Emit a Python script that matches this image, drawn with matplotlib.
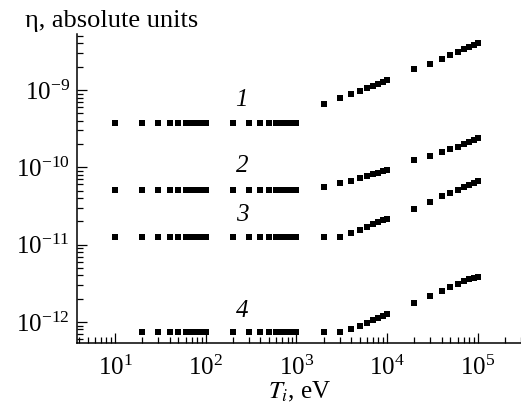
import matplotlib
matplotlib.use("Agg")
import matplotlib.pyplot as plt
import matplotlib.ticker as mticker

plt.rcParams['font.family'] = ['Liberation Serif', 'DejaVu Serif']
plt.rcParams['mathtext.fontset'] = 'stix'

# temperatures, eV
T_low = [10, 20, 30, 40, 50, 60, 70, 80, 90, 100,
         200, 300, 400, 500, 600, 700, 800, 900, 1000]
T_low4 = [20, 30, 40, 50, 60, 70, 80, 90, 100,
          200, 300, 400, 500, 600, 700, 800, 900, 1000]
T_high = [2000, 3000, 4000, 5000, 6000, 7000, 8000, 9000, 10000,
          20000, 30000, 40000, 50000, 60000, 70000, 80000, 90000, 100000]

# eta, absolute units
eta1_low = [3.77e-10, 3.77e-10, 3.77e-10, 3.77e-10, 3.77e-10, 3.77e-10, 3.77e-10,
            3.77e-10, 3.77e-10, 3.77e-10, 3.77e-10, 3.77e-10, 3.77e-10, 3.77e-10,
            3.77e-10, 3.77e-10, 3.77e-10, 3.77e-10, 3.77e-10]
eta1_high = [6.5e-10, 7.9e-10, 8.9e-10, 9.8e-10, 1.06e-9, 1.13e-9, 1.2e-9, 1.28e-9, 1.35e-9,
             1.85e-9, 2.18e-9, 2.54e-9, 2.84e-9, 3.1e-9, 3.39e-9, 3.63e-9, 3.82e-9, 4.09e-9]

eta2_low = [5.05e-11, 5.05e-11, 5.05e-11, 5.05e-11, 5.05e-11, 5.05e-11, 5.05e-11,
            5.05e-11, 5.05e-11, 5.05e-11, 5.05e-11, 5.05e-11, 5.05e-11, 5.05e-11,
            5.05e-11, 5.05e-11, 5.05e-11, 5.05e-11, 5.05e-11]
eta2_high = [5.55e-11, 6.2e-11, 6.64e-11, 7.26e-11, 7.7e-11, 8.1e-11, 8.5e-11, 8.9e-11, 9.33e-11,
             1.23e-10, 1.42e-10, 1.58e-10, 1.71e-10, 1.85e-10, 1.98e-10, 2.1e-10, 2.25e-10, 2.38e-10]

eta3_low = [1.24e-11, 1.24e-11, 1.24e-11, 1.24e-11, 1.24e-11, 1.24e-11, 1.24e-11,
            1.24e-11, 1.24e-11, 1.24e-11, 1.24e-11, 1.24e-11, 1.24e-11, 1.24e-11,
            1.24e-11, 1.24e-11, 1.24e-11, 1.24e-11, 1.24e-11]
eta3_high = [1.26e-11, 1.26e-11, 1.42e-11, 1.55e-11, 1.7e-11, 1.83e-11, 1.95e-11, 2.06e-11, 2.16e-11,
             2.91e-11, 3.59e-11, 4.2e-11, 4.64e-11, 5.1e-11, 5.5e-11, 5.9e-11, 6.3e-11, 6.7e-11]

eta4_low = [7.36e-13, 7.36e-13, 7.36e-13, 7.36e-13, 7.36e-13, 7.36e-13, 7.36e-13,
            7.36e-13, 7.36e-13, 7.36e-13, 7.36e-13, 7.36e-13, 7.36e-13, 7.36e-13,
            7.36e-13, 7.36e-13, 7.36e-13, 7.36e-13]
eta4_high = [7.4e-13, 7.4e-13, 8.0e-13, 8.9e-13, 9.7e-13, 1.05e-12, 1.13e-12, 1.2e-12, 1.27e-12,
             1.75e-12, 2.2e-12, 2.5e-12, 2.83e-12, 3.1e-12, 3.35e-12, 3.55e-12, 3.72e-12, 3.87e-12]

x_major = [10, 100, 1000, 10000, 100000]
y_major = [1e-12, 1e-11, 1e-10, 1e-9]

curve_labels = ['1', '2', '3', '4']
label_pos = [(250, 7.4e-10), (250, 1.03e-10), (250, 2.44e-11), (250, 1.39e-12)]

fig = plt.figure(figsize=(5.21, 4.15), dpi=100)
ax = fig.add_axes([77 / 521, 72.3 / 415, 1 - 77 / 521, (342.7 - 34) / 415])

series = [(T_low, eta1_low, eta1_high), (T_low, eta2_low, eta2_high),
          (T_low, eta3_low, eta3_high), (T_low4, eta4_low, eta4_high)]
for t_lo, lo, hi in series:
    ax.plot(t_lo, lo, 's', color='black', markersize=4, markeredgewidth=0)
    ax.plot(T_high, hi, 's', color='black', markersize=4.3, markeredgewidth=0)

for lab, (x, y) in zip(curve_labels, label_pos):
    ax.text(x, y, lab, fontsize=18, style='italic', ha='center', va='center')

ax.set_xscale('log')
ax.set_yscale('log')
ax.set_xlim(3.8, 3.0e5)
ax.set_ylim(5.4e-13, 5.3e-9)

ax.spines['top'].set_visible(False)
ax.spines['right'].set_visible(False)
ax.spines['left'].set_linewidth(1.1)
ax.spines['bottom'].set_linewidth(1.1)

ax.xaxis.set_major_locator(mticker.FixedLocator(x_major))
ax.xaxis.set_major_formatter(mticker.LogFormatterSciNotation())
ax.xaxis.set_minor_locator(mticker.LogLocator(base=10, subs=range(2, 10), numticks=20))
ax.xaxis.set_minor_formatter(mticker.NullFormatter())
ax.yaxis.set_major_locator(mticker.FixedLocator(y_major))
ax.yaxis.set_major_formatter(mticker.LogFormatterSciNotation())
ax.yaxis.set_minor_locator(mticker.LogLocator(base=10, subs=range(2, 10), numticks=20))
ax.yaxis.set_minor_formatter(mticker.NullFormatter())

ax.tick_params(which='both', direction='in', width=0.9, labelsize=18)
ax.tick_params(which='major', length=7)
ax.tick_params(which='minor', length=4.5)
ax.tick_params(axis='x', which='both', pad=9)
ax.tick_params(axis='y', which='both', pad=5)

fig.text(25 / 521, 1 - 27 / 415, 'η, absolute units', fontsize=19, ha='left', va='baseline')
fig.text(268 / 521, 1 - 398 / 415, r'$T_i$, eV', fontsize=18, ha='left', va='baseline')

fig.savefig('out.png', dpi=100)
